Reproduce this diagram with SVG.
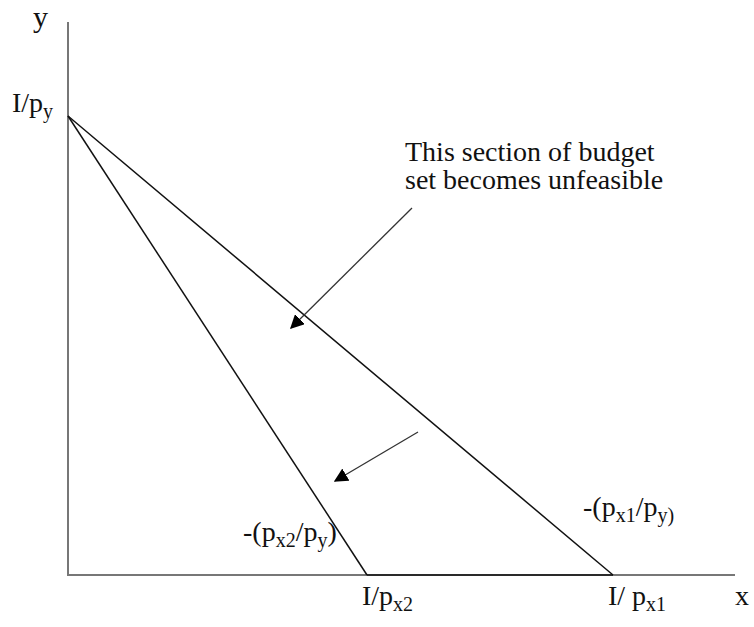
<svg xmlns="http://www.w3.org/2000/svg" width="754" height="627" viewBox="0 0 754 627">
<style>
text{font-family:"Liberation Serif","Times New Roman",serif;font-size:28px;fill:#111}
.sub{font-size:20px}
.axis{stroke:#777;stroke-width:2;fill:none}
.line{stroke:#111;stroke-width:1.5;fill:none}
.arr{stroke:#333;stroke-width:1.3;fill:none;marker-end:url(#ah)}
</style>
<defs>
<marker id="ah" viewBox="0 0 10 10" refX="9" refY="5" markerWidth="14" markerHeight="14" markerUnits="userSpaceOnUse" orient="auto">
<path d="M0,0 L10,5 L0,10 z" fill="#000"/>
</marker>
</defs>
<rect width="754" height="627" fill="#fff"/>
<g id="axes">
<line class="axis" x1="68" y1="22" x2="68" y2="575"/>
<line class="axis" x1="67" y1="575" x2="735" y2="575"/>
<text x="33" y="27" style="font-size:30px">y</text>
<text x="735" y="605">x</text>
</g>
<g id="budget1">
<line class="line" x1="68" y1="116" x2="613" y2="575"/>
<text x="583" y="516">-(p<tspan class="sub" dy="6">x1</tspan><tspan dy="-6">/p</tspan><tspan class="sub" dy="6">y)</tspan></text>
</g>
<g id="budget2">
<line class="line" x1="68" y1="116" x2="367" y2="575"/>
<text x="243" y="541">-(p<tspan class="sub" dy="6">x2</tspan><tspan dy="-6">/p</tspan><tspan class="sub" dy="6">y</tspan><tspan dy="-6">)</tspan></text>
</g>
<g id="segment">
<line class="line" x1="367" y1="575" x2="613" y2="575"/>
</g>
<g id="labels">
<text x="12" y="112">I/p<tspan class="sub" dy="6">y</tspan></text>
<text x="362" y="605">I/p<tspan class="sub" dy="6">x2</tspan></text>
<text x="608" y="605">I/ p<tspan class="sub" dy="6">x1</tspan></text>
<text x="405" y="161">This section of budget</text>
<text x="405" y="189">set becomes unfeasible</text>
</g>
<g id="connectors">
<line class="arr" x1="412" y1="208" x2="291" y2="328"/>
<line class="arr" x1="418" y1="432" x2="335" y2="481"/>
</g>
</svg>
